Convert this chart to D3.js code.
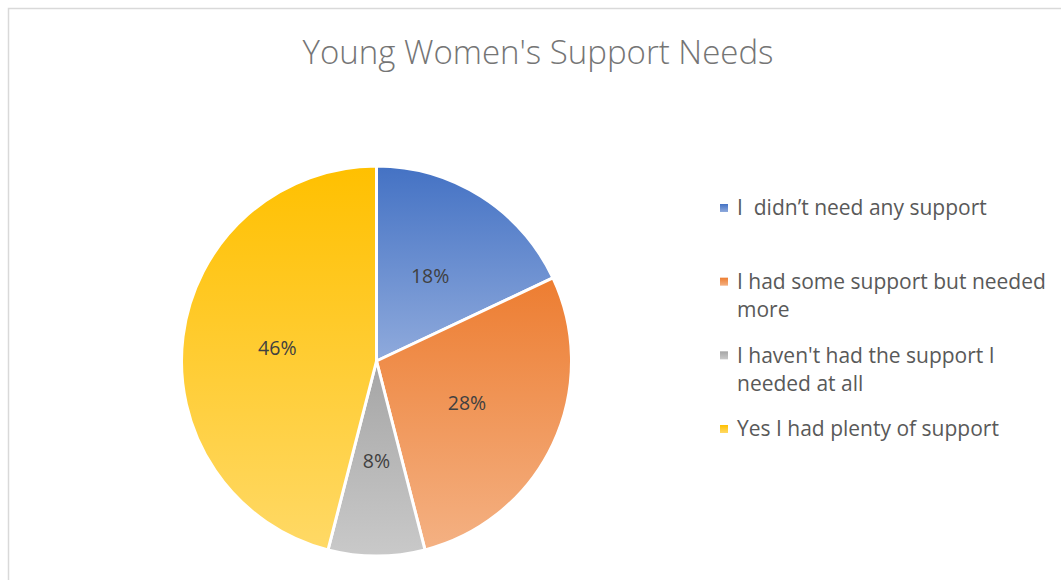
<!DOCTYPE html>
<html>
<head>
<meta charset="utf-8">
<script src="https://cdn.jsdelivr.net/npm/d3@7"></script>
<style>
  html, body { margin: 0; padding: 0; background: #fff; }
  svg { display: block; }
  text { white-space: pre; }
</style>
</head>
<body>
<svg id="chart" width="1061" height="580"></svg>
<script>
// Survey answers and their shares (percent)
const categories = [
  "I  didn\u2019t need any support",
  "I had some support but needed more",
  "I haven't had the support I needed at all",
  "Yes I had plenty of support"
];
const values = [18, 28, 8, 46];
const topColors = ["#4472C4", "#ED7D31", "#A5A5A5", "#FFC000"];
const bottomColors = ["#8FAADC", "#F4B183", "#C9C9C9", "#FFD966"];
const title = "Young Women's Support Needs";

const W = 1061, H = 580;
const svg = d3.select("#chart");
const fontFam = "'Open Sans', 'Noto Sans', sans-serif";

// Chart frame
svg.append("rect")
  .attr("x", 8.5).attr("y", 8.5)
  .attr("width", W + 10).attr("height", H + 10)
  .attr("fill", "#fff")
  .attr("stroke", "#D9D9D9").attr("stroke-width", 1.5);

// Title
svg.append("text")
  .attr("x", 538).attr("y", 64)
  .attr("text-anchor", "middle")
  .attr("font-family", fontFam)
  .attr("font-weight", 300)
  .attr("font-size", 33)
  .attr("fill", "#757575")
  .text(title);

// Vertical gradients, one per slice
const defs = svg.append("defs");
categories.forEach((c, i) => {
  const g = defs.append("linearGradient")
    .attr("id", "grad" + i)
    .attr("x1", 0).attr("y1", 0).attr("x2", 0).attr("y2", 1);
  g.append("stop").attr("offset", "0%").attr("stop-color", topColors[i]);
  g.append("stop").attr("offset", "100%").attr("stop-color", bottomColors[i]);
});

// Pie
const cx = 376.5, cy = 361, R = 195;
const pie = d3.pie().sort(null).value(d => d.value);
const data = categories.map((c, i) => ({ label: c, value: values[i], i }));
const arcs = pie(data);
const arc = d3.arc().innerRadius(0).outerRadius(R);
const labelArc = d3.arc().innerRadius(100).outerRadius(100);

const pg = svg.append("g").attr("transform", `translate(${cx},${cy})`);
pg.selectAll("path.slice")
  .data(arcs)
  .join("path")
  .attr("class", "slice")
  .attr("d", arc)
  .attr("fill", d => `url(#grad${d.data.i})`)
  .attr("stroke", "#fff")
  .attr("stroke-width", 3)
  .attr("stroke-linejoin", "round");

pg.selectAll("text.pct")
  .data(arcs)
  .join("text")
  .attr("class", "pct")
  .attr("transform", d => `translate(${labelArc.centroid(d)})`)
  .attr("text-anchor", "middle")
  .attr("dy", "0.35em")
  .attr("font-family", fontFam)
  .attr("font-size", 19.5)
  .attr("fill", "#404040")
  .text(d => d.data.value + "%");

// Legend
const legendX = 720, textX = 737, lineH = 28, maxW = 322;
const yItem = d3.scalePoint().domain(d3.range(categories.length)).range([208, 429]);
const lg = svg.append("g");

categories.forEach((c, i) => {
  const y0 = yItem(i);
  lg.append("rect")
    .attr("x", legendX).attr("y", y0 - 4)
    .attr("width", 8).attr("height", 8)
    .attr("fill", `url(#grad${i})`);
  const t = lg.append("text")
    .attr("font-family", fontFam)
    .attr("font-size", 21)
    .attr("fill", "#595959");
  const addLine = (n) => t.append("tspan")
    .attr("x", textX).attr("y", y0 + n * lineH).attr("dy", "0.35em");
  // wrap words onto lines no wider than maxW
  const words = c.split(" ");
  let line = [], lineNo = 0;
  let ts = addLine(0);
  words.forEach(w => {
    line.push(w);
    ts.text(line.join(" "));
    if (ts.node().getComputedTextLength() > maxW && line.length > 1) {
      line.pop();
      ts.text(line.join(" "));
      line = [w];
      lineNo++;
      ts = addLine(lineNo).text(w);
    }
  });
});
</script>
</body>
</html>
